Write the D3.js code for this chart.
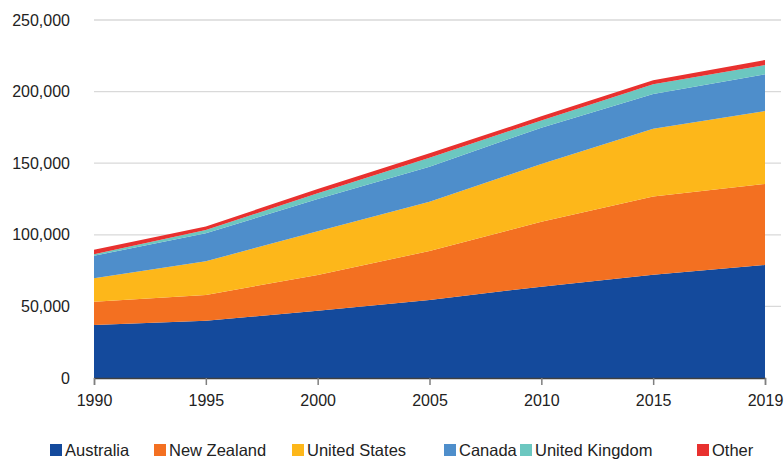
<!DOCTYPE html>
<html>
<head>
<meta charset="utf-8">
<script src="https://d3js.org/d3.v7.min.js"></script>
<style>
body { margin: 0; background: #fff; font-family: 'Liberation Sans', Arial, sans-serif; }
svg { display: block; }
</style>
</head>
<body>
<svg width="784" height="459"></svg>
<script>
// data
var years = ["1990", "1995", "2000", "2005", "2010", "2015", "2019"];
var series = ["Australia", "New Zealand", "United States", "Canada", "United Kingdom", "Other"];
var australia     = [37000, 40000, 47000, 54500, 63800, 72100, 78900];
var newZealand    = [16300, 18000, 24900, 34200, 45300, 54600, 56600];
var unitedStates  = [16300, 23500, 30600, 34400, 40400, 47300, 50900];
var canada        = [15800, 19500, 22500, 24500, 25300, 24300, 25700];
var unitedKingdom = [1000, 2300, 4000, 6200, 5100, 6900, 6500];
var other         = [3200, 2500, 3000, 3100, 2800, 2800, 3500];
var yTicks = [0, 50000, 100000, 150000, 200000, 250000];

var colors = ["#144a9c", "#f37021", "#fdb71a", "#4e8ecb", "#6cc7c0", "#e8312f"];
var legendX = [50, 154, 292, 444, 520, 697];

var svg = d3.select("svg");
var values = [australia, newZealand, unitedStates, canada, unitedKingdom, other];

var table = years.map(function(y, i) {
  var row = { year: y };
  series.forEach(function(s, j) { row[s] = values[j][i]; });
  return row;
});

var x = d3.scalePoint().domain(years).range([94, 765]);
var yScale = d3.scaleLinear().domain([0, 250000]).range([378, 20]);

// gridlines
svg.append("g")
  .selectAll("line")
  .data(yTicks.slice(1))
  .join("line")
  .attr("x1", 94).attr("x2", 781)
  .attr("y1", d => yScale(d)).attr("y2", d => yScale(d))
  .attr("stroke", "#d9d9d9").attr("stroke-width", 1.3);

var stack = d3.stack().keys(series);
var layers = stack(table);

var area = d3.area()
  .x(d => x(d.data.year))
  .y0(d => yScale(d[0]))
  .y1(d => yScale(d[1]));

svg.append("g")
  .selectAll("path")
  .data(layers)
  .join("path")
  .attr("d", area)
  .attr("fill", (d, i) => colors[i]);

// y axis labels
var yAxis = d3.axisLeft(yScale)
  .tickValues(yTicks)
  .tickSize(0)
  .tickPadding(24)
  .tickFormat(d3.format(","));
var gy = svg.append("g").attr("transform", "translate(94,0)").call(yAxis);
gy.select(".domain").remove();
gy.selectAll("text").attr("font-size", "16px").attr("fill", "#222")
  .attr("font-family", "'Liberation Sans', Arial, sans-serif");

// x axis
var xAxis = d3.axisBottom(x).tickSize(7).tickPadding(10);
var gx = svg.append("g").attr("transform", "translate(0,378)").call(xAxis);
gx.select(".domain").attr("stroke", "#404040").attr("stroke-width", 1.3);
gx.selectAll("line").attr("stroke", "#7f7f7f").attr("stroke-width", 1.5);
gx.selectAll("text").attr("font-size", "16px").attr("fill", "#222")
  .attr("font-family", "'Liberation Sans', Arial, sans-serif");

// legend
var legend = svg.append("g")
  .selectAll("g")
  .data(series)
  .join("g")
  .attr("transform", (d, i) => "translate(" + legendX[i] + ",444)");
legend.append("rect")
  .attr("width", 12).attr("height", 12)
  .attr("fill", (d, i) => colors[i]);
legend.append("text")
  .attr("x", 15).attr("y", 11.5)
  .attr("font-size", "16.5px").attr("fill", "#222")
  .text(d => d);
</script>
</body>
</html>
